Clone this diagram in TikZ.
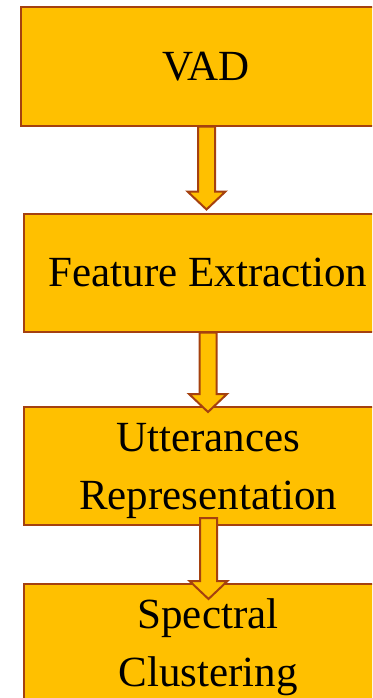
\documentclass[tikz,border=0pt]{standalone}
\usepackage{fontspec}
\setmainfont{Liberation Serif}
\usetikzlibrary{calc}
\definecolor{boxfill}{HTML}{FFC000}
\definecolor{boxline}{RGB}{165,65,15}
\tikzset{
  stage/.style={draw=boxline, fill=boxfill, line width=2pt, rectangle,
    minimum height=118pt, inner sep=0pt, align=center, text depth=0pt,
    font=\fontsize{43}{58}\selectfont},
  blk/.style={draw=boxline, fill=boxfill, line width=2pt, line join=miter}
}
% block arrow: #1 = top centre of the shaft, #2 = tip
\newcommand\blockarrow[2]{%
  \draw[blk] ($(#1)+(-8.5,0)$) -- ($(#2)+(-8.5,-18)$) -- ($(#2)+(-19,-18)$)
    -- (#2) -- ($(#2)+(19,-18)$) -- ($(#2)+(8.5,-18)$) -- ($(#1)+(8.5,0)$) -- cycle;}
\begin{document}
\begin{tikzpicture}[x=1pt,y=-1pt]
  \path[use as bounding box, clip] (0,0) rectangle (372,698);
  \node[stage, minimum width=370pt] (vad)  at (206,66.5) {VAD};
  \node[stage, minimum width=368pt] (feat) at (208,272.5) {Feature Extraction};
  \node[stage, minimum width=368pt] (utt)  at (208,466) {Utterances\\Representation};
  \node[stage, minimum width=368pt] (spec) at (208,643) {Spectral\\Clustering};
  % connectors
  \coordinate (a1s) at ($(vad.south)+(0.5,0)$);
  \coordinate (a1t) at ($(feat.north)+(-1.5,-3)$);
  \blockarrow{a1s}{a1t}
  \coordinate (a2s) at (feat.south);
  \coordinate (a2t) at ($(utt.north)+(0,6)$);
  \blockarrow{a2s}{a2t}
  \coordinate (a3s) at ($(utt.south)+(0.5,-8)$);
  \coordinate (a3t) at ($(spec.north)+(0.5,16)$);
  \blockarrow{a3s}{a3t}
\end{tikzpicture}
\end{document}
